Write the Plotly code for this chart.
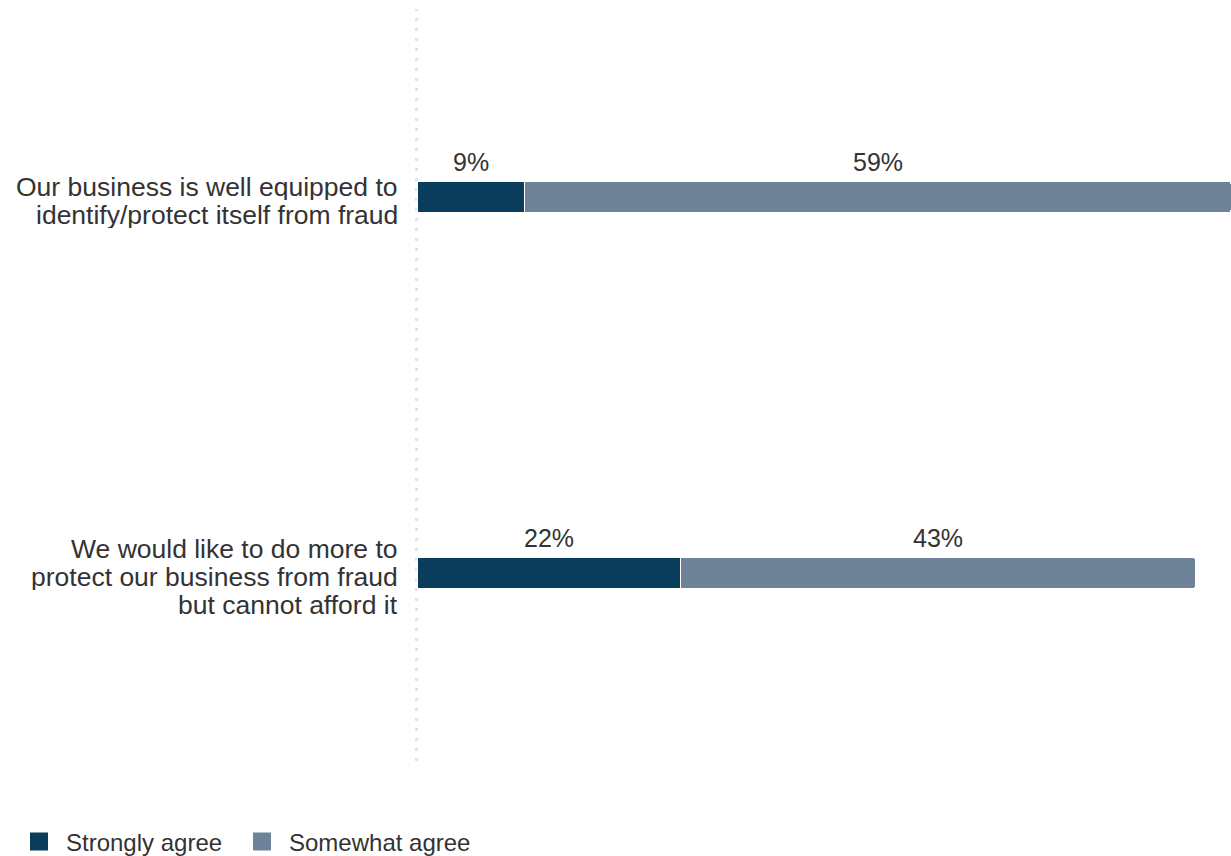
import plotly.graph_objects as go

# Survey statements (line breaks mark the label wrapping)
categories = [
    "Our business is well equipped to<br>identify/protect itself from fraud",
    "We would like to do more to<br>protect our business from fraud<br>but cannot afford it",
]
series_names = ["Strongly agree", "Somewhat agree"]
strongly_agree = [9, 22]
somewhat_agree = [59, 43]
series_values = [strongly_agree, somewhat_agree]
series_colors = ["#0a3d5c", "#6e8398"]

FONT = "Liberation Sans, Arial, sans-serif"
TEXT_COLOR = "#333333"

# each series gets its own legend box so the entries can be spaced freely
legend_ids = ["legend", "legend2"]
legend_left_px = [12, 235]

fig = go.Figure()

for name, values, color, lid in zip(series_names, series_values, series_colors, legend_ids):
    fig.add_trace(go.Bar(
        name=name,
        y=categories,
        x=values,
        orientation="h",
        marker=dict(color=color, line=dict(color="white", width=1)),
        showlegend=False,
        hoverinfo="skip",
    ))
    # legend entry with a larger square swatch
    fig.add_trace(go.Scatter(
        name=name,
        x=[None], y=[None],
        mode="markers",
        marker=dict(symbol="square", size=16, color=color,
                    line=dict(color=color, width=2)),
        showlegend=True,
        legend=lid,
    ))

annotations = []

# value labels centred above each segment
for cat_idx, cat in enumerate(categories):
    start = 0
    for values in series_values:
        v = values[cat_idx]
        annotations.append(dict(
            x=start + v / 2, y=cat, xref="x", yref="y",
            text=f"{v}%", showarrow=False,
            xanchor="center", yanchor="middle", yshift=35,
            font=dict(family=FONT, size=25, color=TEXT_COLOR),
        ))
        start += v

# category labels, one annotation per line for tight line spacing
LINE_STEP = 28
for cat in categories:
    lines = cat.split("<br>")
    n = len(lines)
    for i, line in enumerate(lines):
        annotations.append(dict(
            x=0, y=cat, xref="paper", yref="y",
            text=line, showarrow=False,
            xanchor="right", yanchor="middle",
            height=26,
            xshift=-17, yshift=((n - 1) / 2 - i) * LINE_STEP - 4,
            font=dict(family=FONT, size=26.5, color=TEXT_COLOR),
        ))

legend_common = dict(
    orientation="h",
    xref="container", yref="container",
    y=1 - 842 / 856,
    xanchor="left", yanchor="middle",
    itemwidth=44,
    font=dict(family=FONT, size=24, color=TEXT_COLOR),
    bgcolor="rgba(0,0,0,0)",
)

fig.update_layout(
    width=1231, height=856,
    margin=dict(l=417, r=0, t=9, b=95),
    paper_bgcolor="white", plot_bgcolor="white",
    barmode="stack",
    bargap=0.915,
    barcornerradius=3,
    font=dict(family=FONT, color=TEXT_COLOR),
    xaxis=dict(range=[0, 68], visible=False, fixedrange=True),
    yaxis=dict(categoryorder="array", categoryarray=categories,
               range=[1.5, -0.5], showticklabels=False, showgrid=False,
               zeroline=False, ticks=""),
    annotations=annotations,
    shapes=[dict(type="line", xref="paper", yref="paper",
                 x0=-0.5 / 814, x1=-0.5 / 814, y0=0, y1=1, layer="below",
                 line=dict(color="#e3e3e3", width=3, dash="3px,7px"))],
    legend=dict(legend_common, x=legend_left_px[0] / 1231),
    legend2=dict(legend_common, x=legend_left_px[1] / 1231),
    showlegend=True,
)

fig.write_html("out.html")
